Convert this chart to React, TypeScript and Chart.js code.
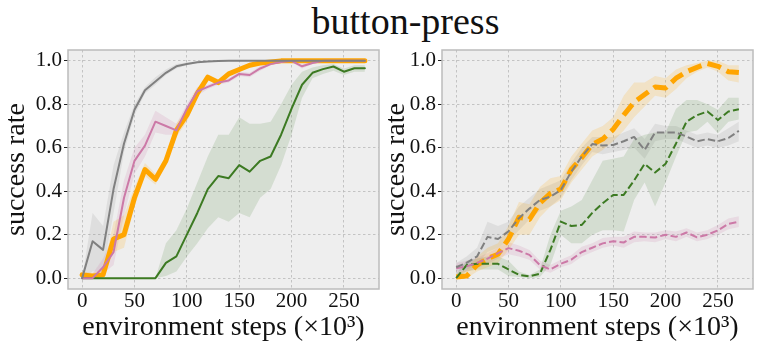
import React, { useEffect, useRef } from "react";
import { Chart, registerables } from "chart.js";

Chart.register(...registerables);

const STEPS = [0, 10, 20, 30, 40, 50, 60, 70, 80, 90, 100, 110, 120, 130, 140, 150, 160, 170, 180, 190, 200, 210, 220, 230, 240, 250, 260, 270];
const X_TICKS = [0, 50, 100, 150, 200, 250];
const Y_TICKS = [0, 0.2, 0.4, 0.6, 0.8, 1.0];

const TITLE = "button-press";
const X_TITLE = "environment steps (×10³)";
const Y_TITLE = "success rate";

// ---- left panel (solid lines) ----
const L_ORANGE = [0.015, 0.01, 0.015, 0.18, 0.2, 0.37, 0.5, 0.455, 0.54, 0.68, 0.75, 0.85, 0.925, 0.9, 0.94, 0.96, 0.98, 0.99, 0.995, 1, 1, 1, 1, 1, 1, 1, 1, 1];
const L_ORANGE_LO = [0, 0, 0, 0.12, 0.14, 0.33, 0.47, 0.43, 0.52, 0.65, 0.72, 0.83, 0.915, 0.89, 0.935, 0.955, 0.975, 0.985, 0.99, 1, 1, 1, 1, 1, 1, 1, 1, 1];
const L_ORANGE_HI = [0.03, 0.025, 0.04, 0.26, 0.29, 0.42, 0.53, 0.48, 0.56, 0.71, 0.78, 0.87, 0.935, 0.915, 0.95, 0.97, 0.99, 0.995, 1, 1, 1, 1, 1, 1, 1, 1, 1, 1];

const L_PINK = [0, 0, 0.05, 0.12, 0.37, 0.54, 0.61, 0.72, 0.7, 0.68, 0.78, 0.86, 0.88, 0.9, 0.91, 0.94, 0.935, 0.965, 0.985, 0.995, 1.0, 0.975, 0.99, 1, 1, 1, 1, 1];
const L_PINK_LO = [0, 0, 0.02, 0.06, 0.29, 0.48, 0.56, 0.67, 0.66, 0.66, 0.75, 0.84, 0.87, 0.89, 0.9, 0.93, 0.925, 0.955, 0.98, 0.99, 0.995, 0.965, 0.985, 0.995, 1, 1, 1, 1];
const L_PINK_HI = [0, 0.02, 0.09, 0.2, 0.45, 0.6, 0.66, 0.77, 0.74, 0.71, 0.8, 0.88, 0.89, 0.91, 0.92, 0.95, 0.945, 0.975, 0.99, 1, 1, 0.985, 0.995, 1, 1, 1, 1, 1];

const L_GRAY = [0, 0.17, 0.13, 0.41, 0.62, 0.775, 0.865, 0.905, 0.945, 0.975, 0.986, 0.994, 0.997, 0.999, 1, 1, 1, 1, 1, 1, 1, 1, 1, 1, 1, 1, 1, 1];
const L_GRAY_LO = [0, 0.03, 0.03, 0.3, 0.58, 0.75, 0.85, 0.89, 0.935, 0.965, 0.98, 0.99, 0.995, 0.998, 1, 1, 1, 1, 1, 1, 1, 1, 1, 1, 1, 1, 1, 1];
const L_GRAY_HI = [0, 0.3, 0.24, 0.52, 0.67, 0.8, 0.88, 0.925, 0.96, 0.985, 0.992, 0.998, 1, 1, 1, 1, 1, 1, 1, 1, 1, 1, 1, 1, 1, 1, 1, 1];

const L_GREEN = [0, 0, 0, 0, 0, 0, 0, 0, 0.07, 0.1, 0.2, 0.3, 0.41, 0.47, 0.46, 0.52, 0.49, 0.54, 0.56, 0.66, 0.78, 0.89, 0.945, 0.962, 0.974, 0.95, 0.966, 0.966];
const L_GREEN_LO = [0, 0, 0, 0, 0, 0, 0, 0, 0.01, 0.03, 0.1, 0.16, 0.23, 0.28, 0.26, 0.3, 0.28, 0.37, 0.41, 0.52, 0.66, 0.83, 0.92, 0.94, 0.955, 0.935, 0.95, 0.95];
const L_GREEN_HI = [0, 0, 0, 0, 0, 0, 0, 0, 0.16, 0.22, 0.32, 0.44, 0.56, 0.66, 0.66, 0.74, 0.71, 0.71, 0.72, 0.8, 0.89, 0.95, 0.97, 0.98, 0.985, 0.965, 0.98, 0.98];

// ---- right panel (dashed lines) ----
const R_ORANGE = [0.005, 0.01, 0.06, 0.09, 0.11, 0.18, 0.28, 0.27, 0.345, 0.39, 0.41, 0.5, 0.555, 0.615, 0.64, 0.685, 0.75, 0.81, 0.845, 0.88, 0.875, 0.92, 0.95, 0.97, 0.988, 0.975, 0.95, 0.946];
const R_ORANGE_LO = [0, 0, 0.03, 0.05, 0.07, 0.13, 0.2, 0.2, 0.28, 0.33, 0.36, 0.44, 0.5, 0.56, 0.59, 0.63, 0.68, 0.74, 0.79, 0.84, 0.83, 0.87, 0.92, 0.95, 0.97, 0.95, 0.91, 0.9];
const R_ORANGE_HI = [0.02, 0.04, 0.1, 0.14, 0.16, 0.24, 0.35, 0.34, 0.42, 0.46, 0.47, 0.56, 0.62, 0.68, 0.7, 0.74, 0.84, 0.9, 0.9, 0.93, 0.92, 0.96, 0.98, 0.99, 1.0, 1.0, 0.98, 0.98];

const R_GRAY = [0.05, 0.07, 0.1, 0.19, 0.18, 0.215, 0.276, 0.32, 0.36, 0.375, 0.406, 0.49, 0.56, 0.617, 0.61, 0.613, 0.63, 0.65, 0.59, 0.67, 0.67, 0.67, 0.652, 0.63, 0.64, 0.63, 0.645, 0.678];
const R_GRAY_LO = [0.03, 0.04, 0.06, 0.12, 0.14, 0.17, 0.22, 0.27, 0.31, 0.33, 0.37, 0.45, 0.52, 0.58, 0.57, 0.58, 0.59, 0.6, 0.55, 0.63, 0.64, 0.64, 0.62, 0.6, 0.61, 0.6, 0.61, 0.63];
const R_GRAY_HI = [0.07, 0.1, 0.14, 0.26, 0.24, 0.26, 0.33, 0.37, 0.41, 0.43, 0.45, 0.53, 0.6, 0.65, 0.65, 0.65, 0.67, 0.69, 0.64, 0.71, 0.7, 0.7, 0.68, 0.66, 0.67, 0.66, 0.69, 0.72];

const R_GREEN = [0, 0.06, 0.066, 0.066, 0.066, 0.04, 0.015, 0.008, 0.02, 0.13, 0.26, 0.24, 0.245, 0.3, 0.345, 0.383, 0.383, 0.45, 0.526, 0.486, 0.526, 0.62, 0.72, 0.75, 0.767, 0.728, 0.767, 0.777];
const R_GREEN_LO = [0, 0.03, 0.04, 0.04, 0.04, 0.01, 0.005, 0, 0.005, 0.06, 0.2, 0.16, 0.16, 0.2, 0.22, 0.22, 0.215, 0.36, 0.44, 0.33, 0.44, 0.56, 0.67, 0.68, 0.72, 0.667, 0.72, 0.73];
const R_GREEN_HI = [0.02, 0.08, 0.09, 0.1, 0.1, 0.08, 0.03, 0.015, 0.04, 0.2, 0.31, 0.33, 0.36, 0.45, 0.54, 0.55, 0.56, 0.64, 0.66, 0.67, 0.67, 0.78, 0.82, 0.82, 0.8, 0.775, 0.83, 0.83];

const R_PINK = [0.046, 0.054, 0.07, 0.09, 0.115, 0.138, 0.126, 0.107, 0.06, 0.04, 0.066, 0.085, 0.12, 0.14, 0.16, 0.17, 0.164, 0.19, 0.19, 0.187, 0.2, 0.19, 0.21, 0.188, 0.2, 0.22, 0.25, 0.26];
const R_PINK_LO = [0.02, 0.03, 0.045, 0.065, 0.09, 0.11, 0.1, 0.085, 0.04, 0.025, 0.05, 0.065, 0.1, 0.12, 0.14, 0.15, 0.14, 0.165, 0.17, 0.165, 0.18, 0.17, 0.19, 0.17, 0.18, 0.2, 0.225, 0.235];
const R_PINK_HI = [0.07, 0.08, 0.095, 0.115, 0.14, 0.165, 0.15, 0.13, 0.08, 0.06, 0.085, 0.105, 0.145, 0.16, 0.185, 0.19, 0.19, 0.215, 0.21, 0.21, 0.22, 0.215, 0.23, 0.21, 0.22, 0.245, 0.275, 0.285];

const ORANGE = "#ffa500";
const GRAY = "#808080";
const PINK = "#cc79a7";
const GREEN = "#3c7a22";
const ORANGE_BAND = "rgba(255,165,0,0.17)";
const GRAY_BAND = "rgba(128,128,128,0.14)";
const PINK_BAND = "rgba(204,121,167,0.17)";
const GREEN_BAND = "rgba(60,122,34,0.14)";

const FONT = "'Liberation Serif', 'Times New Roman', serif";

type Series = {
  mean: number[];
  lo: number[];
  hi: number[];
  color: string;
  band: string;
  width: number;
  dash: number[];
  order: number;
};

function pts(arr: number[]) {
  return STEPS.map((s, i) => ({ x: s, y: arr[i] }));
}

function buildDatasets(series: Series[]) {
  const bands: any[] = [];
  const lines: any[] = [];
  series.forEach((s, k) => {
    bands.push({
      data: pts(s.lo),
      borderWidth: 0,
      pointRadius: 0,
      fill: false,
      borderColor: "transparent",
      order: 20,
    });
    bands.push({
      data: pts(s.hi),
      borderWidth: 0,
      pointRadius: 0,
      borderColor: "transparent",
      backgroundColor: s.band,
      fill: 2 * k,
      order: 20,
    });
  });
  series.forEach((s) => {
    lines.push({
      data: pts(s.mean),
      borderColor: s.color,
      borderWidth: s.width,
      borderDash: s.dash,
      borderCapStyle: s.dash.length ? "butt" : "round",
      borderJoinStyle: "round",
      pointRadius: 0,
      fill: false,
      tension: 0,
      order: s.order,
    });
  });
  return [...bands, ...lines];
}

const framePlugin = {
  id: "frame",
  beforeDraw(chart: any) {
    const { ctx, chartArea: a } = chart;
    ctx.save();
    ctx.fillStyle = "#eeeeee";
    ctx.fillRect(a.left, a.top, a.right - a.left, a.bottom - a.top);
    ctx.restore();
  },
  afterDatasetsDraw(chart: any) {
    const { ctx, chartArea: a } = chart;
    ctx.save();
    ctx.strokeStyle = "#bcbcbc";
    ctx.lineWidth = 1.5;
    ctx.strokeRect(a.left, a.top, a.right - a.left, a.bottom - a.top);
    ctx.restore();
  },
};

function makeConfig(series: Series[], yAxisWidth: number, padRight: number): any {
  return {
    type: "line",
    data: { datasets: buildDatasets(series) },
    plugins: [framePlugin],
    options: {
      animation: false,
      responsive: false,
      devicePixelRatio: 1,
      layout: { padding: { left: 0, right: padRight, top: 50, bottom: 0 } },
      plugins: { legend: { display: false }, tooltip: { enabled: false }, title: { display: false } },
      scales: {
        x: {
          type: "linear",
          min: -13.5,
          max: 283.5,
          afterBuildTicks: (s: any) => {
            s.ticks = X_TICKS.map((v) => ({ value: v }));
          },
          afterFit: (s: any) => {
            s.height = 66;
          },
          ticks: {
            font: { family: FONT, size: 21 },
            color: "#111",
            padding: 0,
            maxRotation: 0,
            autoSkip: false,
            callback: (v: any) => String(v),
          },
          grid: { color: "#b8b8b8", lineWidth: 0.8, drawTicks: false },
          border: { display: false, dash: [2.5, 2.5] },
          title: {
            display: true,
            text: X_TITLE,
            font: { family: FONT, size: 28 },
            color: "#111",
            padding: { top: 0, bottom: 11 },
          },
        },
        y: {
          type: "linear",
          min: -0.05,
          max: 1.05,
          afterBuildTicks: (s: any) => {
            s.ticks = Y_TICKS.map((v) => ({ value: v }));
          },
          afterFit: (s: any) => {
            s.width = yAxisWidth;
          },
          ticks: {
            font: { family: FONT, size: 21 },
            color: "#111",
            padding: 2,
            autoSkip: false,
            callback: (v: any) => Number(v).toFixed(1),
          },
          grid: {
            color: "#b8b8b8",
            lineWidth: 0.8,
            drawTicks: true,
            tickLength: 4,
            tickColor: "#222",
            tickWidth: 1,
            tickBorderDash: [],
          },
          border: { display: false, dash: [2.5, 2.5] },
          title: {
            display: true,
            text: Y_TITLE,
            font: { family: FONT, size: 28 },
            color: "#111",
            padding: { top: 0, bottom: 0 },
          },
        },
      },
    },
  };
}

const LEFT_SERIES: Series[] = [
  { mean: L_ORANGE, lo: L_ORANGE_LO, hi: L_ORANGE_HI, color: ORANGE, band: ORANGE_BAND, width: 5, dash: [], order: 4 },
  { mean: L_GREEN, lo: L_GREEN_LO, hi: L_GREEN_HI, color: GREEN, band: GREEN_BAND, width: 2, dash: [], order: 3 },
  { mean: L_PINK, lo: L_PINK_LO, hi: L_PINK_HI, color: PINK, band: PINK_BAND, width: 2, dash: [], order: 2 },
  { mean: L_GRAY, lo: L_GRAY_LO, hi: L_GRAY_HI, color: GRAY, band: GRAY_BAND, width: 2, dash: [], order: 1 },
];

const RIGHT_SERIES: Series[] = [
  { mean: R_ORANGE, lo: R_ORANGE_LO, hi: R_ORANGE_HI, color: ORANGE, band: ORANGE_BAND, width: 5, dash: [14, 6.5], order: 4 },
  { mean: R_GREEN, lo: R_GREEN_LO, hi: R_GREEN_HI, color: GREEN, band: GREEN_BAND, width: 2, dash: [7.4, 3.2], order: 3 },
  { mean: R_PINK, lo: R_PINK_LO, hi: R_PINK_HI, color: PINK, band: PINK_BAND, width: 2, dash: [7.4, 3.2], order: 2 },
  { mean: R_GRAY, lo: R_GRAY_LO, hi: R_GRAY_HI, color: GRAY, band: GRAY_BAND, width: 2, dash: [7.4, 3.2], order: 1 },
];

export default function App() {
  const leftRef = useRef<HTMLCanvasElement>(null);
  const rightRef = useRef<HTMLCanvasElement>(null);

  useEffect(() => {
    const c1 = new Chart(leftRef.current!, makeConfig(LEFT_SERIES, 68, 1));
    const c2 = new Chart(rightRef.current!, makeConfig(RIGHT_SERIES, 62, 8));
    return () => {
      c1.destroy();
      c2.destroy();
    };
  }, []);

  return (
    <div
      style={{
        position: "fixed",
        left: 0,
        top: 0,
        width: 761,
        height: 355,
        background: "#ffffff",
        overflow: "hidden",
      }}
    >
      <div
        style={{
          position: "absolute",
          left: 405.5,
          top: 2,
          transform: "translateX(-50%)",
          whiteSpace: "nowrap",
          fontFamily: FONT,
          fontSize: 38,
          lineHeight: "38px",
          color: "#111",
        }}
      >
        {TITLE}
      </div>
      <canvas ref={leftRef} width={380} height={355} style={{ position: "absolute", left: 0, top: 0, width: 380, height: 355 }} />
      <canvas ref={rightRef} width={381} height={355} style={{ position: "absolute", left: 380, top: 0, width: 381, height: 355 }} />
    </div>
  );
}
